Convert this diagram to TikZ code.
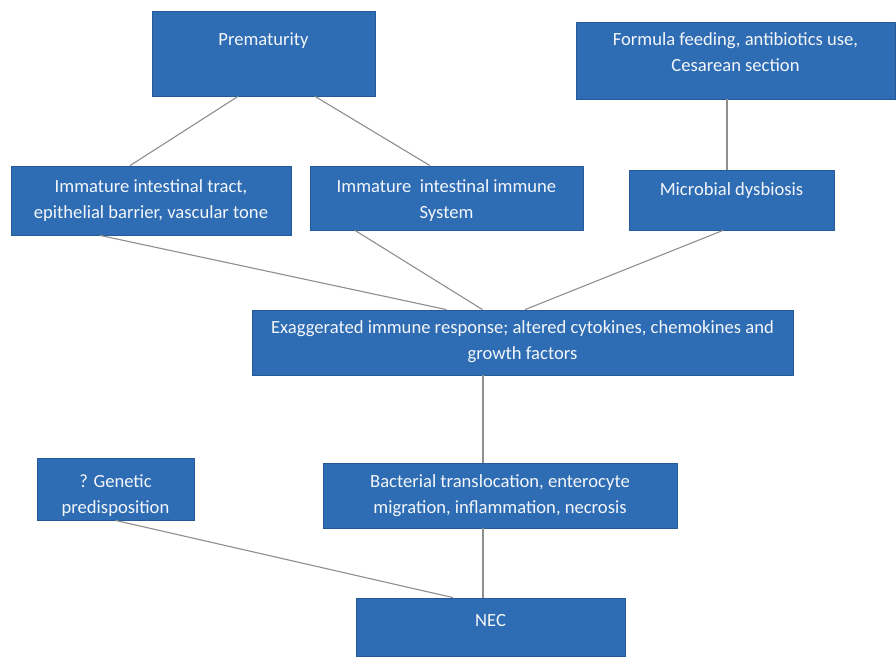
\documentclass[tikz,border=0pt]{standalone}
\usepackage{fontspec}
\setmainfont{Carlito}
\definecolor{boxblue}{HTML}{2E6DB4}
\definecolor{boxedge}{HTML}{245A98}
\definecolor{linkgray}{HTML}{8E8E8E}
\usetikzlibrary{positioning}

\begin{document}
\begin{tikzpicture}[x=1pt, y=-1pt,
    blbox/.style={rectangle, fill=boxblue, draw=boxedge, line width=0.8pt, inner sep=0pt},
    bltext/.style={inner sep=0pt, text=white!94!boxblue, align=center,
      font=\fontsize{18.6}{26}\selectfont},
    link/.style={draw=linkgray, line width=1.1pt}]
  \useasboundingbox (0,0) rectangle (896,660);
  \fill[white] (0,0) rectangle (896,660);

  % boxes
  \node[blbox, minimum width=223pt, minimum height=85pt] (prem) at (263.5,53.5) {};
  \node[blbox, minimum width=319pt, minimum height=77pt] (formula) at (735.5,60.5) {};
  \node[blbox, minimum width=280pt, minimum height=69pt] (tract) at (151,200.5) {};
  \node[blbox, minimum width=273pt, minimum height=64pt] (immune) at (446.5,198) {};
  \node[blbox, minimum width=205pt, minimum height=60pt] (microb) at (731.5,200) {};
  \node[blbox, minimum width=541pt, minimum height=65pt] (exag) at (522.5,342.5) {};
  \node[blbox, minimum width=157pt, minimum height=62pt] (genet) at (115.5,489) {};
  \node[blbox, minimum width=354pt, minimum height=65pt] (bact) at (500,495.5) {};
  \node[blbox, minimum width=269pt, minimum height=58pt] (nec) at (490.5,627) {};

  % texts
  \node[bltext, below=22pt of prem.north] (premtxt) {Prematurity};
  \node[bltext, below=11pt of formula.north] (formulatxt)
    {Formula feeding, antibiotics use,\\Cesarean section};
  \node[bltext, below=14pt of tract.north] (tracttxt)
    {Immature intestinal tract,\\epithelial barrier, vascular tone};
  \node[bltext, below=14pt of immune.north] (immunetxt)
    {Immature\ \ intestinal immune\\System};
  \node[bltext, below=13pt of microb.north] (microbtxt) {Microbial dysbiosis};
  \node[bltext, below=11pt of exag.north] (exagtxt)
    {Exaggerated immune response; altered cytokines, chemokines and\\growth factors};
  \node[bltext, below=17pt of genet.north] (genettxt)
    {? Genetic\\predisposition};
  \node[bltext, below=12pt of bact.north] (bacttxt)
    {Bacterial translocation, enterocyte\\migration, inflammation, necrosis};
  \node[bltext, below=17pt of nec.north] (nectxt) {NEC};

  % links
  \draw[link] ([xshift=-25.5pt]prem.south) -- ([xshift=-21pt]tract.north);
  \draw[link] ([xshift=51.5pt]prem.south) -- ([xshift=-16.5pt]immune.north);
  \draw[link] ([xshift=-8.5pt]formula.south) -- ([xshift=-4.5pt]microb.north);
  \draw[link] ([xshift=-51pt]tract.south) -- ([xshift=-76pt]exag.north);
  \draw[link] ([xshift=-91.5pt]immune.south) -- ([xshift=-40pt]exag.north);
  \draw[link] ([xshift=-8.5pt]microb.south) -- ([xshift=2.5pt]exag.north);
  \draw[link] ([xshift=-39.5pt]exag.south) -- ([xshift=-17pt]bact.north);
  \draw[link] ([xshift=-17pt]bact.south) -- ([xshift=-7.5pt]nec.north);
  \draw[link] (genet.south) -- ([xshift=-37.5pt]nec.north);
\end{tikzpicture}
\end{document}
